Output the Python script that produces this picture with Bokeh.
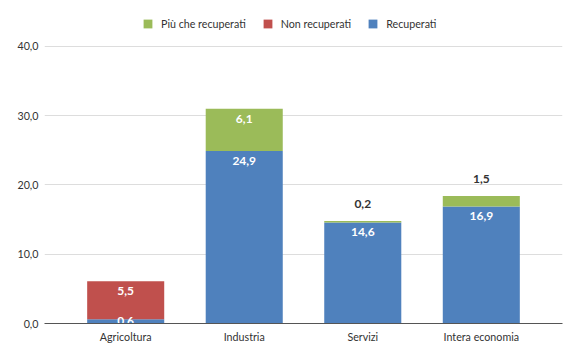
from bokeh.plotting import figure
from bokeh.models import (ColumnDataSource, FactorRange, Range1d, FixedTicker,
                          Legend, LegendItem)
from bokeh.core.properties import value
from bokeh.embed import file_html
from bokeh.resources import INLINE

categories = ["Agricoltura", "Industria", "Servizi", "Intera economia"]
recuperati = [0.6, 24.9, 14.6, 16.9]
non_recuperati = [5.5, 0.0, 0.0, 0.0]
piu_che_recuperati = [0.0, 6.1, 0.2, 1.5]
y_ticks = [0, 10, 20, 30, 40]

series = [("recuperati", recuperati, "#4F81BD", "Recuperati"),
          ("non_recuperati", non_recuperati, "#C0504D", "Non recuperati"),
          ("piu_che", piu_che_recuperati, "#9BBB59", "Più che recuperati")]

FONT = "Lato"

p = figure(width=580, height=359, output_backend="svg", toolbar_location=None,
           x_range=FactorRange(*categories, range_padding=0.185,
                               range_padding_units="absolute"),
           y_range=Range1d(0, 46.64),
           min_border_left=44, min_border_right=18, min_border_top=0,
           min_border_bottom=36)
p.outline_line_color = None
p.background_fill_color = "white"

src = ColumnDataSource(dict(cat=categories, recuperati=recuperati,
                            non_recuperati=non_recuperati, piu_che=piu_che_recuperati))
renderers = p.vbar_stack([s[0] for s in series], x="cat", width=0.65, source=src,
                         color=[s[2] for s in series], line_color=None)

# labels
lx, ly, lt, lc, loff = [], [], [], [], []
for i, cat in enumerate(categories):
    bottom = 0.0
    vals = [s[1][i] for s in series]
    top_idx = max(j for j, v in enumerate(vals) if v > 0)
    for j, v in enumerate(vals):
        if v <= 0:
            continue
        txt = f"{v:.1f}".replace(".", ",")
        if j == top_idx and v < 2:
            lx.append(cat); ly.append(bottom + v); lt.append(txt)
            lc.append("#333333"); loff.append(-17)
        elif v < 2:
            lx.append(cat); ly.append(bottom + v / 2); lt.append(txt)
            lc.append("white"); loff.append(0)
        else:
            lx.append(cat); ly.append(bottom + v); lt.append(txt)
            lc.append("white"); loff.append(10)
        bottom += v

lsrc = ColumnDataSource(dict(x=lx, y=ly, t=lt, c=lc, o=loff))
p.text(x="x", y="y", text="t", source=lsrc, text_color="c", y_offset="o",
       text_align="center", text_baseline="middle", text_font=value(FONT),
       text_font_style="bold", text_font_size="12px")

# axes
p.xaxis.axis_line_color = "#555555"
p.xaxis.major_tick_line_color = None
p.xaxis.minor_tick_line_color = None
p.xaxis.major_tick_out = 0
p.xaxis.major_tick_in = 0
p.xaxis.major_label_standoff = 6
p.xaxis.major_label_text_font = FONT
p.xaxis.major_label_text_font_size = "10.7px"
p.xaxis.major_label_text_color = "#333333"
p.xgrid.grid_line_color = None

p.yaxis.ticker = FixedTicker(ticks=y_ticks)
p.yaxis.major_label_overrides = {t: f"{t:.1f}".replace(".", ",") for t in y_ticks}
p.yaxis.axis_line_color = None
p.yaxis.major_tick_line_color = None
p.yaxis.minor_tick_line_color = None
p.yaxis.major_tick_out = 0
p.yaxis.major_tick_in = 0
p.yaxis.major_label_standoff = 6
p.yaxis.major_label_text_font = FONT
p.yaxis.major_label_text_font_size = "10.7px"
p.yaxis.major_label_text_color = "#333333"
p.ygrid.ticker = FixedTicker(ticks=y_ticks[1:])
p.ygrid.grid_line_color = "#dddddd"

legend = Legend(items=[LegendItem(label=series[2][3], renderers=[renderers[2]]),
                       LegendItem(label=series[1][3], renderers=[renderers[1]]),
                       LegendItem(label=series[0][3], renderers=[renderers[0]])],
                orientation="horizontal", location=(98, 293),
                glyph_width=11, glyph_height=11, label_height=11,
                label_standoff=8, spacing=16, padding=0, margin=0,
                border_line_color=None, background_fill_alpha=0,
                label_text_font=FONT, label_text_font_size="10.7px",
                label_text_color="#333333", label_text_baseline="middle")
p.add_layout(legend, "center")

open("out.html", "w").write(file_html(p, INLINE))
